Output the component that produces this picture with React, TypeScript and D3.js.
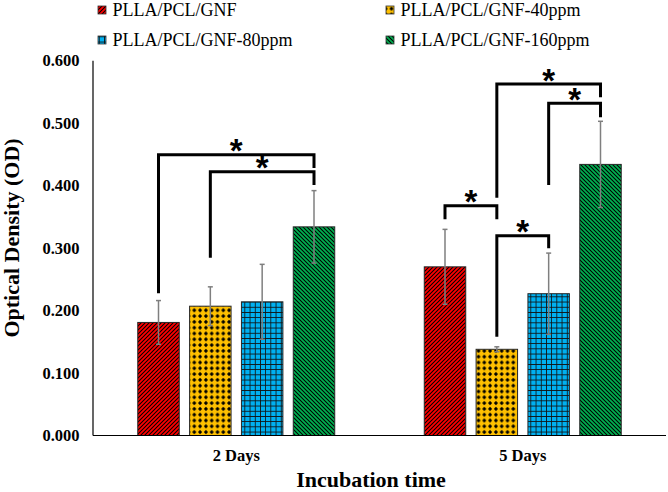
import React from "react";
import * as d3 from "d3";

const categories = ["2 Days", "5 Days"];
const seriesNames = [
  "PLLA/PCL/GNF",
  "PLLA/PCL/GNF-40ppm",
  "PLLA/PCL/GNF-80ppm",
  "PLLA/PCL/GNF-160ppm",
];
const seriesColors = ["#ff0000", "#ffc000", "#00b0f0", "#00b050"];
// values per series, one per category
const valuesGNF = [0.181, 0.27];
const values40 = [0.207, 0.138];
const values80 = [0.214, 0.227];
const values160 = [0.334, 0.434];
const errGNF = [0.035, 0.06];
const err40 = [0.031, 0.004];
const err80 = [0.06, 0.065];
const err160 = [0.058, 0.069];
const yTicks = [0, 0.1, 0.2, 0.3, 0.4, 0.5, 0.6];

// significance brackets: category index, from series, to series, top level, left end, right end (OD units)
const bracketCat = [0, 0, 1, 1, 1, 1];
const bracketFrom = [0, 1, 0, 1, 1, 2];
const bracketTo = [3, 3, 1, 2, 3, 3];
const bracketTop = [0.4495, 0.4223, 0.3679, 0.3198, 0.5627, 0.5318];
const bracketLeft = [0.2276, 0.2846, 0.3461, 0.1582, 0.3807, 0.401];
const bracketRight = [0.4282, 0.401, 0.3461, 0.2997, 0.5414, 0.5094];

const allValues = [valuesGNF, values40, values80, values160];
const allErrs = [errGNF, err40, err80, err160];

const W = 668;
const H = 492;
const serif = "'Liberation Serif', 'Times New Roman', serif";

export default function App() {
  const x0 = d3
    .scaleBand<string>()
    .domain(categories)
    .range([93, 666])
    .paddingInner(0.3125)
    .paddingOuter(0.15625);
  const x1 = d3
    .scaleBand<number>()
    .domain(d3.range(seriesNames.length))
    .range([0, x0.bandwidth()])
    .paddingInner(0.2)
    .paddingOuter(0);
  const y = d3.scaleLinear().domain([0, 0.6]).range([435.5, 60.7]);
  const patIds = ["patRed", "patYellow", "patBlue", "patGreen"];
  const cx = (c: number, s: number) =>
    (x0(categories[c]) as number) + (x1(s) as number) + x1.bandwidth() / 2;

  const legendPos = [
    { x: 98, y: 16 },
    { x: 386, y: 16 },
    { x: 98, y: 46 },
    { x: 386, y: 46 },
  ];

  return (
    <svg
      width={W}
      height={H}
      viewBox={`0 0 ${W} ${H}`}
      style={{ position: "absolute", left: 0, top: 0, background: "#fff" }}
    >
      <defs>
        <pattern id="patRed" patternUnits="userSpaceOnUse" width={4} height={4}>
          <rect width={4} height={4} fill={seriesColors[0]} />
          <path d="M-1,1 l2,-2 M0,4 l4,-4 M3,5 l2,-2" stroke="#000" strokeWidth={1.05} />
        </pattern>
        <pattern id="patGreen" patternUnits="userSpaceOnUse" width={4} height={4}>
          <rect width={4} height={4} fill={seriesColors[3]} />
          <path d="M-1,3 l2,2 M0,0 l4,4 M3,-1 l2,2" stroke="#000" strokeWidth={1.05} />
        </pattern>
        <pattern id="patYellow" patternUnits="userSpaceOnUse" width={5.8} height={5.8}>
          <rect width={5.8} height={5.8} fill={seriesColors[1]} />
          <path d="M2.9,0.8 L5,2.9 L2.9,5 L0.8,2.9 Z" fill="#000" />
        </pattern>
        <pattern id="patBlue" patternUnits="userSpaceOnUse" width={5.2} height={5.2}>
          <rect width={5.2} height={5.2} fill={seriesColors[2]} />
          <path d="M0,0.4 H5.2 M0.4,0 V5.2" stroke="#111" strokeWidth={0.9} />
        </pattern>
      </defs>

      {/* legend */}
      {seriesNames.map((name, i) => (
        <g key={name}>
          <rect
            x={legendPos[i].x}
            y={legendPos[i].y - 10}
            width={8}
            height={8}
            fill={`url(#${patIds[i]})`}
            stroke="#333"
            strokeWidth={0.8}
          />
          <text
            x={legendPos[i].x + 14.5}
            y={legendPos[i].y}
            fontFamily={serif}
            fontSize={18}
            fill="#000"
          >
            {name}
          </text>
        </g>
      ))}

      {/* y tick labels */}
      {yTicks.map((t) => (
        <text
          key={t}
          x={79.5}
          y={y(t) + 5.6}
          textAnchor="end"
          fontFamily={serif}
          fontWeight="bold"
          fontSize={16.5}
          fill="#000"
        >
          {t.toFixed(3)}
        </text>
      ))}

      {/* bars */}
      {categories.map((cat, c) =>
        seriesNames.map((_, s) => (
          <rect
            key={`${cat}-${s}`}
            x={(x0(cat) as number) + (x1(s) as number)}
            y={y(allValues[s][c])}
            width={x1.bandwidth()}
            height={y(0) - y(allValues[s][c])}
            fill={`url(#${patIds[s]})`}
            stroke="#262626"
            strokeWidth={1}
          />
        ))
      )}

      {/* error bars */}
      {categories.map((cat, c) =>
        seriesNames.map((_, s) => {
          const xc = cx(c, s);
          const v = allValues[s][c];
          const e = allErrs[s][c];
          return (
            <g key={`e-${cat}-${s}`} stroke="#7f7f7f" strokeWidth={1.5}>
              <line x1={xc} x2={xc} y1={y(v + e)} y2={y(v - e)} />
              <line x1={xc - 2.5} x2={xc + 2.5} y1={y(v + e)} y2={y(v + e)} />
              <line x1={xc - 2.5} x2={xc + 2.5} y1={y(v - e)} y2={y(v - e)} />
            </g>
          );
        })
      )}

      {/* axes */}
      <line x1={93} x2={93} y1={60.7} y2={435.5} stroke="#000" strokeWidth={1.2} />
      <line x1={93} x2={666} y1={435.5} y2={435.5} stroke="#000" strokeWidth={1.2} />

      {/* significance brackets */}
      {bracketCat.map((c, i) => {
        const xl = cx(c, bracketFrom[i]);
        const xr = cx(c, bracketTo[i]);
        const yt = y(bracketTop[i]);
        return (
          <g key={`b-${i}`}>
            <path
              d={`M${xl},${y(bracketLeft[i])} V${yt} H${xr} V${y(bracketRight[i])}`}
              fill="none"
              stroke="#000"
              strokeWidth={3}
            />
            <text
              x={(xl + xr) / 2}
              y={yt + 7.6}
              textAnchor="middle"
              fontFamily="'Liberation Sans', Arial, sans-serif"
              fontWeight="bold"
              fontSize={33}
              fill="#000"
            >
              *
            </text>
          </g>
        );
      })}

      {/* x category labels */}
      {categories.map((cat) => (
        <text
          key={cat}
          x={(x0(cat) as number) + x0.bandwidth() / 2}
          y={460.7}
          textAnchor="middle"
          fontFamily={serif}
          fontWeight="bold"
          fontSize={16.5}
          fill="#000"
        >
          {cat}
        </text>
      ))}

      {/* axis titles */}
      <text
        x={371}
        y={487}
        textAnchor="middle"
        fontFamily={serif}
        fontWeight="bold"
        fontSize={22}
        fill="#000"
      >
        Incubation time
      </text>
      <text
        transform="translate(18.5,238) rotate(-90)"
        textAnchor="middle"
        fontFamily={serif}
        fontWeight="bold"
        fontSize={22}
        fill="#000"
      >
        Optical Density (OD)
      </text>
    </svg>
  );
}
